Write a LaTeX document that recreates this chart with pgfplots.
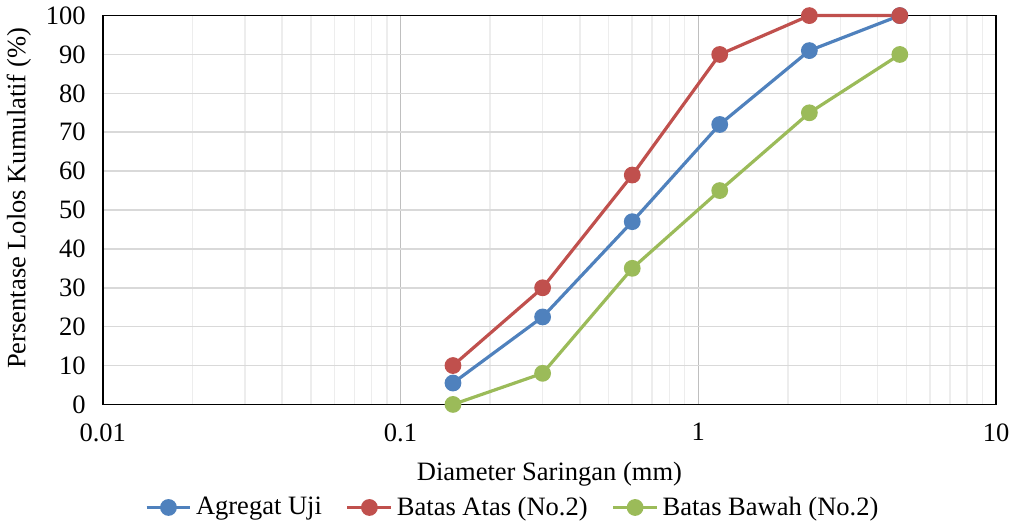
\documentclass[border=0pt]{standalone}
\usepackage{pgfplots}
\pgfplotsset{compat=1.18}
\usepackage{fontspec}
\setmainfont{Liberation Serif}
\definecolor{cblue}{HTML}{4F81BD}
\definecolor{cred}{HTML}{C0504D}
\definecolor{cgreen}{HTML}{9BBB59}
\newcommand{\chartfont}{\fontsize{13.3}{16}\selectfont}
\begin{document}
\begin{tikzpicture}
\begin{axis}[
  xmode=log, scale only axis, width=448pt, height=195pt,
  xmin=0.01, xmax=10, ymin=0, ymax=100,
  xtick={0.01,0.1,1,10}, xticklabels={0.01,0.1,1,10},
  ytick={0,10,...,100},
  /pgf/number format/assume math mode=true,
  major tick length=0pt, minor tick length=0pt,
  xmajorgrids, ymajorgrids, xminorgrids,
  major grid style={draw=black!25, line width=0.8pt},
  minor grid style={draw=black!7, line width=0.8pt},
  y grid style={draw=black!15, line width=0.8pt},
  axis line style={black, line width=0.9pt},
  xlabel={Diameter Saringan (mm)},
  ylabel={Persentase Lolos Kumulatif (\%)},
  xlabel style={at={(axis description cs:0.5,-0.18)}, anchor=center},
  ylabel style={at={(axis description cs:-0.094,0.53)}, anchor=center},
  xticklabel style={yshift=-6pt},
  yticklabel style={xshift=-5pt},
  tick label style={font=\chartfont},
  label style={font=\chartfont},
  legend style={at={(0.46,-0.265)}, anchor=center, draw=none, legend columns=-1,
    font=\chartfont, /tikz/every even column/.append style={column sep=10pt}},
  legend image code/.code={\draw[#1] (0pt,0pt) -- (22pt,0pt); \draw[#1, mark repeat=1] plot coordinates {(11pt,0pt)};},
  every axis plot/.append style={line width=1.6pt, mark=*, mark size=3.4pt},
  clip=false,
]
\addplot[cblue, mark options={fill=cblue}] coordinates {(0.15,5.5) (0.3,22.5) (0.6,47) (1.18,72) (2.36,91) (4.75,100)};
\addplot[cred, mark options={fill=cred}] coordinates {(0.15,10) (0.3,30) (0.6,59) (1.18,90) (2.36,100) (4.75,100)};
\addplot[cgreen, mark options={fill=cgreen}] coordinates {(0.15,0) (0.3,8) (0.6,35) (1.18,55) (2.36,75) (4.75,90)};
\legend{Agregat Uji, Batas Atas (No.2), Batas Bawah (No.2)}
\end{axis}
\end{tikzpicture}
\end{document}
